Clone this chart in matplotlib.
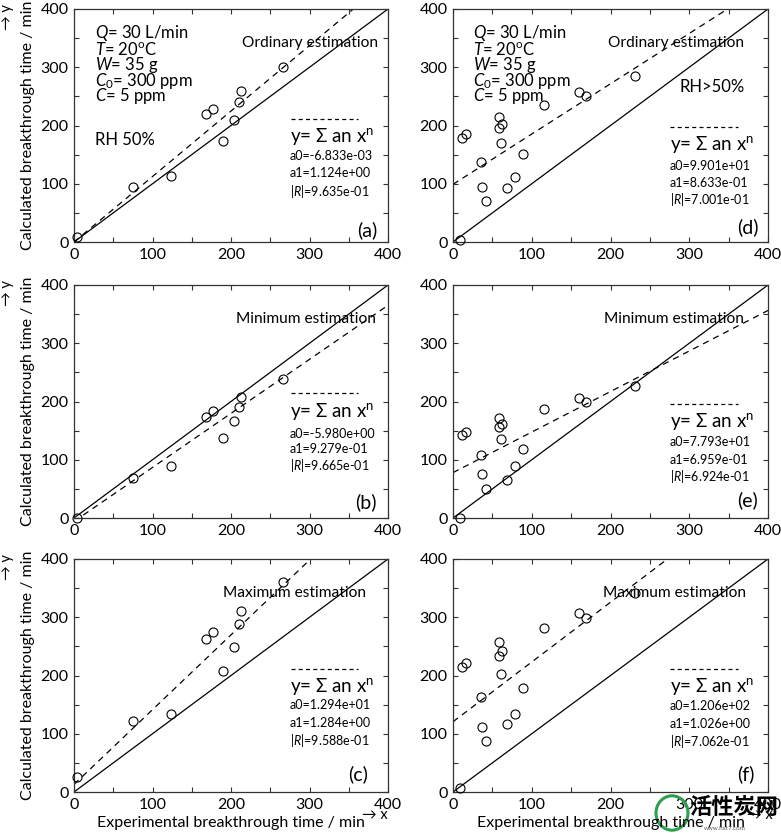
import matplotlib
matplotlib.use('Agg')
import matplotlib.pyplot as plt
import numpy as np
from matplotlib.patches import Circle
from matplotlib.ticker import MultipleLocator

plt.rcParams['font.family'] = ['Lato', 'DejaVu Sans']
plt.rcParams['mathtext.fontset'] = 'custom'
plt.rcParams['mathtext.rm'] = 'Lato'
plt.rcParams['mathtext.it'] = 'Lato:italic'
plt.rcParams['mathtext.bf'] = 'Lato:bold'

# ---------------- data ----------------
exp_rh50 = [4, 75, 124, 168, 177, 190, 204, 210, 213, 266]
calc_ordinary_rh50 = [8, 95, 113, 219, 229, 174, 209, 241, 260, 301]
calc_minimum_rh50 = [0, 69, 90, 174, 183, 138, 166, 191, 208, 239]
calc_maximum_rh50 = [25, 122, 134, 262, 274, 208, 249, 289, 311, 360]

exp_rhgt50 = [9, 11, 17, 35, 37, 42, 58, 59, 62, 61, 69, 79, 89, 116, 160, 169, 231]
calc_ordinary_rhgt50 = [4, 179, 185, 137, 94, 70, 215, 195, 202, 170, 92, 112, 151, 236, 257, 250, 285]
calc_minimum_rhgt50 = [0, 142, 147, 108, 75, 50, 171, 156, 161, 135, 66, 89, 119, 187, 206, 199, 227]
calc_maximum_rhgt50 = [7, 214, 221, 163, 111, 88, 257, 233, 242, 202, 116, 134, 179, 282, 307, 299, 342]

panel_labels = ['(a)', '(b)', '(c)', '(d)', '(e)', '(f)']
estimation_names = ['Ordinary estimation', 'Minimum estimation', 'Maximum estimation',
                    'Ordinary estimation', 'Minimum estimation', 'Maximum estimation']
a0_text = ['-6.833e-03', '-5.980e+00', '1.294e+01', '9.901e+01', '7.793e+01', '1.206e+02']
a1_text = ['1.124e+00', '9.279e-01', '1.284e+00', '8.633e-01', '6.959e-01', '1.026e+00']
r_text = ['9.635e-01', '9.665e-01', '9.588e-01', '7.001e-01', '6.924e-01', '7.062e-01']
tick_values = [0, 100, 200, 300, 400]

param_lines = [r'$\mathit{Q}$= 30 L/min', r'$\mathit{T}$= 20$^{\mathrm{o}}$C', r'$\mathit{W}$= 35 g',
               r'$\mathit{C}_{\mathrm{0}}$= 300 ppm', r'$\mathit{C}$= 5 ppm']

W, H = 781, 839
fig = plt.figure(figsize=(W / 100, H / 100), dpi=100)


def ax_rect(l, r, t, b):
    return [l / W, 1 - b / H, (r - l) / W, (b - t) / H]


rects = [ax_rect(74, 388, 9, 242), ax_rect(74, 388, 285, 518), ax_rect(74, 388, 559, 792),
         ax_rect(453, 768, 9, 242), ax_rect(453, 768, 285, 518), ax_rect(453, 768, 559, 792)]

xs = [exp_rh50] * 3 + [exp_rhgt50] * 3
ys = [calc_ordinary_rh50, calc_minimum_rh50, calc_maximum_rh50,
      calc_ordinary_rhgt50, calc_minimum_rhgt50, calc_maximum_rhgt50]

# legend block y positions (dash, formula, a0, a1, R) per panel
leg_y = [[212, 181, 148, 118, 87], [214, 183, 145, 119, 90], [211, 181, 149, 119, 88],
         [197, 167, 131, 102, 73], [195, 166, 130, 100, 71], [211, 181, 147, 117, 86]]
title_x = [387, 385, 372, 370, 370, 372]
title_y = [342, 341, 341, 342, 341, 341]
lab_xy = [(386, 21), (386, 27), (375, 30), (388, 25), (387, 30), (383, 30)]

line_x = np.array([0, 400])
for i in range(6):
    ax = fig.add_axes(rects[i])
    ax.set_xlim(0, 400)
    ax.set_ylim(0, 400)
    ax.plot(line_x, line_x, color='black', lw=0.9, zorder=2)
    ax.plot(line_x, float(a0_text[i]) + float(a1_text[i]) * line_x, color='black', lw=0.9,
            ls=(0, (5, 4)), zorder=2)
    ax.plot(xs[i], ys[i], 'o', mfc='none', mec='black', ms=6.5, mew=0.8, zorder=3, clip_on=False)
    ax.set_xticks(tick_values)
    ax.set_yticks(tick_values)
    ax.xaxis.set_minor_locator(MultipleLocator(50))
    ax.yaxis.set_minor_locator(MultipleLocator(50))
    ax.tick_params(which='both', direction='in', top=True, right=True, length=3.5, width=0.8,
                   color='#333333', labelsize=11.5, pad=4)
    for s in ax.spines.values():
        s.set_linewidth(0.9)
        s.set_color('#333333')

    ax.text(title_x[i], title_y[i], estimation_names[i], ha='right', va='center', fontsize=11.2)
    ax.text(lab_xy[i][0], lab_xy[i][1], panel_labels[i], ha='right', va='center', fontsize=14)
    ly = leg_y[i]
    ax.plot([276, 362], [ly[0], ly[0]], color='black', lw=0.9, ls=(0, (3.2, 2.6)))
    ax.text(275, ly[1], r'y= Σ an x$^{\mathrm{n}}$', ha='left', va='center', fontsize=13.5)
    ax.text(275, ly[2], 'a0=' + a0_text[i], ha='left', va='center', fontsize=9)
    ax.text(275, ly[3], 'a1=' + a1_text[i], ha='left', va='center', fontsize=9)
    ax.text(275, ly[4], r'|$\mathit{R}$|=' + r_text[i], ha='left', va='center', fontsize=9)

    if i in (0, 3):
        px = 27 if i == 0 else 25
        for k, (t, yy) in enumerate(zip(param_lines, [358, 331, 304, 277, 250])):
            ax.text(px, yy, t, ha='left', va='center', fontsize=12)
    if i == 0:
        ax.text(27, 175, 'RH 50%', ha='left', va='center', fontsize=12)
    if i == 3:
        ax.text(370, 266, 'RH>50%', ha='right', va='center', fontsize=12)

# axis labels
for (t, b) in [(9, 242), (285, 518), (559, 792)]:
    fig.text(28 / W, 1 - ((t + b) / 2) / H, 'Calculated breakthrough time / min', rotation=90,
             ha='center', va='center', fontsize=11.5)
    fig.text(7 / W, 1 - (t + 8) / H, '→ y', rotation=90, ha='center', va='center', fontsize=10.5)
fig.text(231 / W, 1 - 823 / H, 'Experimental breakthrough time / min', ha='center', va='center',
         fontsize=11.5)
fig.text(611 / W, 1 - 823 / H, 'Experimental breakthrough time / min', ha='center', va='center',
         fontsize=11.5)
fig.text(375 / W, 1 - 815 / H, '→ x', ha='center', va='center', fontsize=10.5)
fig.text(760 / W, 1 - 815 / H, '→ x', ha='center', va='center', fontsize=10.5)

# watermark
fig.patches.append(Circle((672 / W, 1 - 813 / H), 16 / W, transform=fig.transFigure,
                          fill=False, ec='#2e9e4f', lw=2.2))
fig.text(734 / W, 1 - 808 / H, '活性炭网', ha='center', va='center', fontsize=16, weight='bold',
         family=['Noto Sans CJK SC', 'DejaVu Sans'])
fig.text(725 / W, 1 - 829 / H, 'www.hxt7.com', ha='center', va='center', fontsize=4.5, color='#555555')

fig.savefig('out.png', dpi=100)
